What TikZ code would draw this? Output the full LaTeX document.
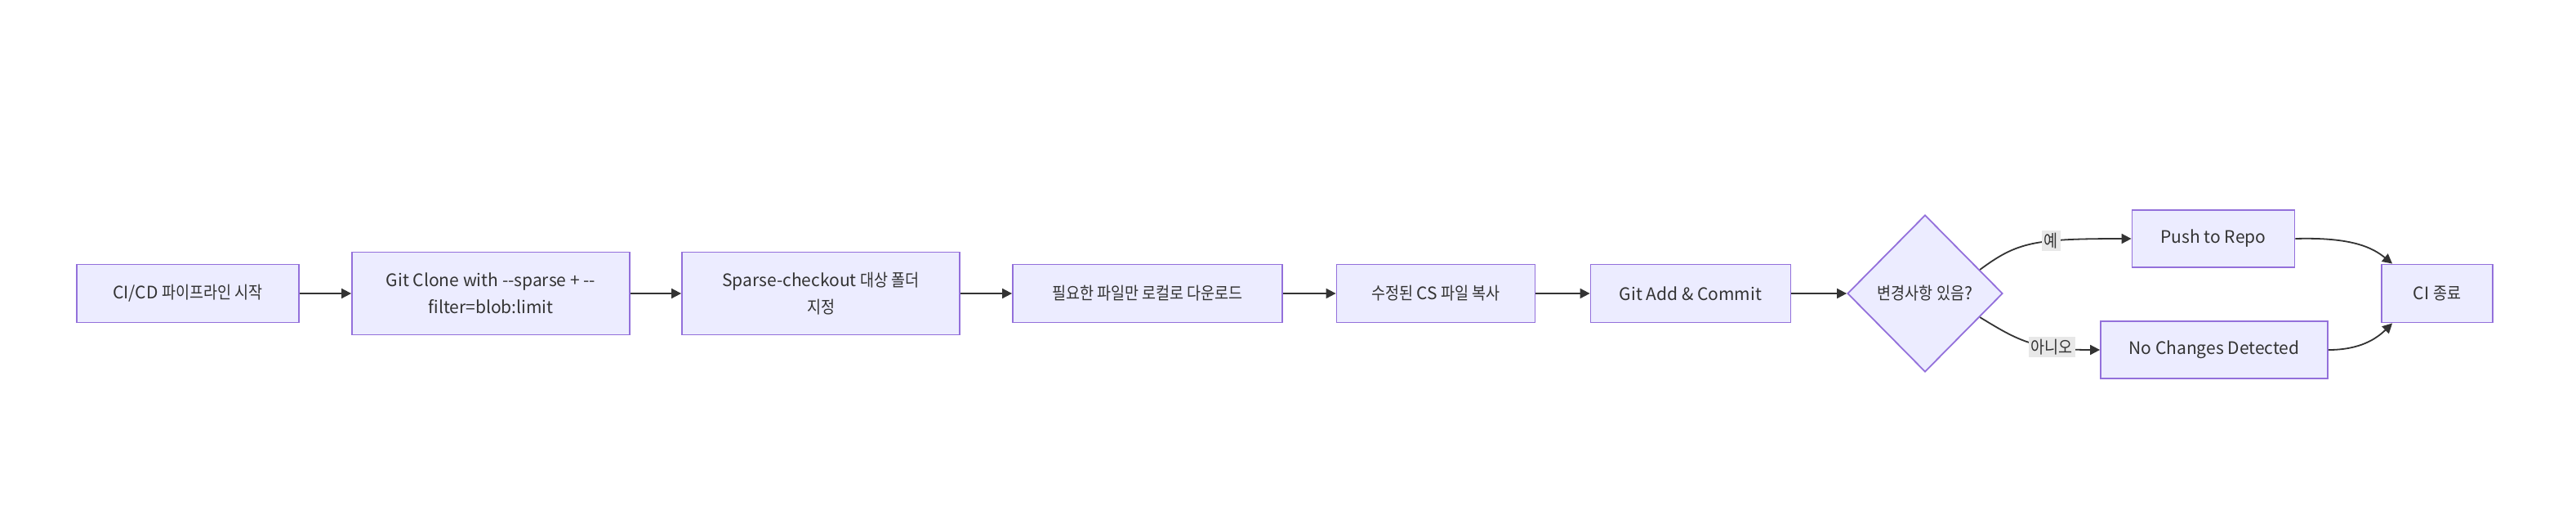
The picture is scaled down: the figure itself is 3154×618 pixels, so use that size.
\documentclass[tikz,border=0pt]{standalone}
\usepackage{fontspec}
\setmainfont{Noto Sans CJK KR}
\newfontfamily\kr[FakeStretch=0.88]{Noto Sans CJK KR}
\usetikzlibrary{arrows.meta,shapes.geometric,calc}
\definecolor{nodefill}{HTML}{ECECFF}
\definecolor{nodeline}{HTML}{9370DB}
\definecolor{ink}{HTML}{333333}
\definecolor{lblbg}{HTML}{E8E8E8}
\begin{document}
\begin{tikzpicture}[x=0.5pt,y=-0.5pt,
  box/.style={draw=nodeline,fill=nodefill,line width=0.9pt,text=ink,
    font=\fontsize{10.5}{16.5}\selectfont,align=center,inner sep=0pt,
    minimum height=35.5pt},
  dec/.style={diamond,draw=nodeline,fill=nodefill,line width=0.9pt,
    inner sep=0pt,minimum width=95pt,minimum height=96pt},
  arr/.style={draw=ink,line width=0.9pt,-{Triangle[length=6pt,width=6pt]}},
  lbl/.style={fill=lblbg,text=ink,font=\fontsize{10.5}{12}\selectfont,inner sep=1.5pt}]
\useasboundingbox (0,0) rectangle (3154,618);
\node[box,minimum width=136pt] (n1) at (230,359) {CI/CD {\kr 파이프라인 시작}};
\node[box,minimum width=170pt,minimum height=50.5pt] (n2) at (601,359) {Git Clone with -{}-sparse + -{}-\\filter=blob:limit};
\node[box,minimum width=170pt,minimum height=50.5pt] (n3) at (1005,359) {Sparse-checkout {\kr 대상 폴더}\\{\kr 지정}};
\node[box,minimum width=165pt] (n4) at (1405,359) {{\kr 필요한 파일만 로컬로 다운로드}};
\node[box,minimum width=121.5pt] (n5) at (1758,359) {{\kr 수정된} CS {\kr 파일 복사}};
\node[box,minimum width=122.5pt] (n6) at (2070,359) {Git Add \& Commit};
\node[dec,label={[text=ink,font=\fontsize{10.5}{12}\selectfont]center:{\kr 변경사항 있음}?}] (d) at (2357,359) {};
\node[box,minimum width=99.5pt,minimum height=35pt] (push) at (2710,292) {Push to Repo};
\node[box,minimum width=139pt,minimum height=35pt] (noc) at (2711,428) {No Changes Detected};
\node[box,minimum width=68pt] (fin) at (2984,359) {CI {\kr 종료}};
\coordinate (dy) at ($(d.east)!0.3!(d.north)$);
\coordinate (dn) at ($(d.east)!0.3!(d.south)$);
\coordinate (fa) at ($(fin.north west)+(14,0)$);
\coordinate (fb) at ($(fin.south west)+(14,0)$);
\draw[arr] (n1) -- (n2);
\draw[arr] (n2) -- (n3);
\draw[arr] (n3) -- (n4);
\draw[arr] (n4) -- (n5);
\draw[arr] (n5) -- (n6);
\draw[arr] (n6) -- (d);
\draw[arr] (dy) .. controls (2470,296) and (2490,292) .. node[lbl,pos=0.63]{{\kr 예}} (push.west);
\draw[arr] (dn) .. controls (2470,416) and (2490,428) .. node[lbl,pos=0.7]{{\kr 아니오}} (noc.west);
\draw[arr] (push.east) .. controls (2880,290) and (2905,303) .. (fa);
\draw[arr] (noc.east) .. controls (2890,428) and (2910,414) .. (fb);
\end{tikzpicture}
\end{document}
